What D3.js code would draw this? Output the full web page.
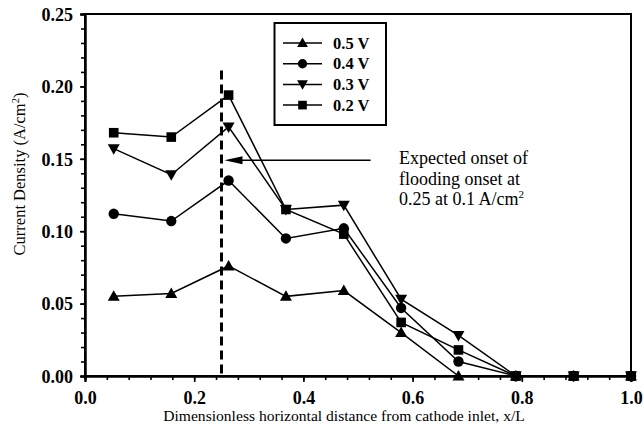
<!DOCTYPE html>
<html><head><meta charset="utf-8">
<script src="https://cdn.jsdelivr.net/npm/d3@7"></script>
<style>
html,body{margin:0;padding:0;background:#fff;}
svg{display:block;}
</style></head>
<body><svg id="c" width="644" height="438"></svg>
<script>
const xValues = [0.0526, 0.158, 0.263, 0.368, 0.474, 0.579, 0.684, 0.789, 0.895, 1.0];
const series05 = [0.055, 0.057, 0.076, 0.055, 0.059, 0.030, 0.0, 0.0, 0.0, 0.0];
const series04 = [0.112, 0.107, 0.135, 0.095, 0.102, 0.047, 0.010, 0.0, 0.0, 0.0];
const series03 = [0.157, 0.139, 0.172, 0.115, 0.118, 0.053, 0.028, 0.0, 0.0, 0.0];
const series02 = [0.168, 0.165, 0.194, 0.115, 0.098, 0.037, 0.018, 0.0, 0.0, 0.0];
const seriesNames = ["0.5 V", "0.4 V", "0.3 V", "0.2 V"];
const seriesSymbols = ["triangle", "circle", "triangleDown", "square"];
const xTickLabels = ["0.0", "0.2", "0.4", "0.6", "0.8", "1.0"];
const yTickLabels = ["0.00", "0.05", "0.10", "0.15", "0.20", "0.25"];
const onsetX = 0.25;
const onsetTop = 0.211;
const arrowY = 0.149;
const arrowStartX = 0.523;
const annotationLines = ["Expected onset of", "flooding onset at", "0.25 at 0.1 A/cm"];

const FONT = "'Liberation Serif', 'Times New Roman', serif";
const svg = d3.select("#c");
const L = 85, R = 631, T = 14, B = 376;
const x = d3.scaleLinear().domain([0, 1]).range([L, R]);
const y = d3.scaleLinear().domain([0, 0.25]).range([B, T]);

// frame
svg.append("rect").attr("x", L).attr("y", T).attr("width", R - L).attr("height", B - T)
  .attr("fill", "none").attr("stroke", "#000").attr("stroke-width", 2);

// y axis
const yAxis = d3.axisLeft(y).tickValues(d3.range(0, 0.2501, 0.05)).tickSize(5)
  .tickFormat((d, i) => yTickLabels[i]);
const gy = svg.append("g").attr("transform", `translate(${L},0)`).call(yAxis);
const yMinor = d3.axisLeft(y).tickValues(d3.range(0, 0.2501, 0.01)).tickSize(4).tickFormat("");
svg.append("g").attr("transform", `translate(${L},0)`).call(yMinor);

// x axis
const xAxis = d3.axisBottom(x).tickValues(d3.range(0, 1.0001, 0.2)).tickSize(6)
  .tickFormat((d, i) => xTickLabels[i]);
const gx = svg.append("g").attr("transform", `translate(0,${B})`).call(xAxis);
const xMinor = d3.axisBottom(x).tickValues(d3.range(0, 1.0001, 0.04)).tickSize(4).tickFormat("");
svg.append("g").attr("transform", `translate(0,${B})`).call(xMinor);

svg.selectAll("g").attr("font-family", null);
svg.selectAll(".domain").attr("stroke", "#000").attr("stroke-width", 2);
svg.selectAll(".tick line").attr("stroke", "#000").attr("stroke-width", 1.6);
gy.selectAll(".tick text").attr("x", -12).attr("dy", "0.35em");
gx.selectAll(".tick text").attr("dy", "1.05em");
svg.selectAll(".tick text").style("font-family", FONT).style("font-size", "18px")
  .style("font-weight", "bold").attr("fill", "#000");

// axis titles
svg.append("text").attr("x", (L + R) / 2 - 14).attr("y", 421).attr("text-anchor", "middle")
  .style("font-family", FONT).style("font-size", "15.6px")
  .text("Dimensionless horizontal distance from cathode inlet, x/L");
const yt = svg.append("text").attr("transform", "translate(25,174) rotate(-90)")
  .attr("text-anchor", "middle").style("font-family", FONT).style("font-size", "16.5px");
yt.append("tspan").text("Current Density (A/cm");
yt.append("tspan").attr("dy", -6).style("font-size", "10.5px").text("2");
yt.append("tspan").attr("dy", 6).text(")");

// dashed onset line
svg.append("line").attr("x1", x(onsetX)).attr("x2", x(onsetX)).attr("y1", y(onsetTop)).attr("y2", y(0))
  .attr("stroke", "#000").attr("stroke-width", 3).attr("stroke-dasharray", "9,5");

// series
const allSeries = [series05, series04, series03, series02];
const line = d3.line().x((d, i) => x(xValues[i])).y(d => y(d));
function drawMarker(g, type, cx, cy, s = 1) {
  if (type === "circle") {
    g.append("circle").attr("cx", cx).attr("cy", cy).attr("r", 5.2 * s).attr("fill", "#000");
  } else if (type === "square") {
    g.append("rect").attr("x", cx - 4.8 * s).attr("y", cy - 4.8 * s).attr("width", 9.6 * s).attr("height", 9.6 * s).attr("fill", "#000");
  } else if (type === "triangle") {
    g.append("path").attr("d", `M${cx},${cy - 6 * s}L${cx + 6 * s},${cy + 4.5 * s}L${cx - 6 * s},${cy + 4.5 * s}Z`).attr("fill", "#000");
  } else {
    g.append("path").attr("d", `M${cx},${cy + 6 * s}L${cx + 6 * s},${cy - 4.5 * s}L${cx - 6 * s},${cy - 4.5 * s}Z`).attr("fill", "#000");
  }
}
allSeries.forEach((s, k) => {
  const g = svg.append("g");
  g.append("path").datum(s).attr("d", line).attr("fill", "none").attr("stroke", "#000").attr("stroke-width", 1.5);
  s.forEach((v, i) => drawMarker(g, seriesSymbols[k], x(xValues[i]), y(v)));
});
// circles drawn on top at shared zero points
const topG = svg.append("g");
series04.forEach((v, i) => { if (i >= 7) drawMarker(topG, "circle", x(xValues[i]), y(v)); });

// legend
const lg = svg.append("g");
lg.append("rect").attr("x", 274.5).attr("y", 23).attr("width", 111.5).attr("height", 102)
  .attr("fill", "#fff").attr("stroke", "#000").attr("stroke-width", 2);
seriesNames.forEach((n, k) => {
  const ly = 43 + k * 20.7;
  lg.append("line").attr("x1", 283).attr("x2", 322).attr("y1", ly).attr("y2", ly)
    .attr("stroke", "#000").attr("stroke-width", 1.5);
  drawMarker(lg, seriesSymbols[k], 302.5, ly, 0.9);
  lg.append("text").attr("x", 333).attr("y", ly + 5.5)
    .style("font-family", FONT).style("font-size", "16.5px").style("font-weight", "bold").text(n);
});

// arrow
svg.append("line").attr("x1", x(arrowStartX)).attr("x2", x(onsetX) + 18).attr("y1", y(arrowY)).attr("y2", y(arrowY))
  .attr("stroke", "#000").attr("stroke-width", 1.5);
const ax = x(onsetX) + 3, ay = y(arrowY);
svg.append("path").attr("d", `M${ax},${ay}L${ax + 18},${ay - 4}L${ax + 18},${ay + 4}Z`).attr("fill", "#000");

// annotation text
annotationLines.forEach((t, i) => {
  const tx = svg.append("text").attr("x", 399).attr("y", 164 + i * 20.5)
    .style("font-family", FONT).style("font-size", "18px");
  tx.append("tspan").text(t);
  if (i === 2) tx.append("tspan").attr("dy", -7).style("font-size", "11px").text("2");
});
</script></body></html>
